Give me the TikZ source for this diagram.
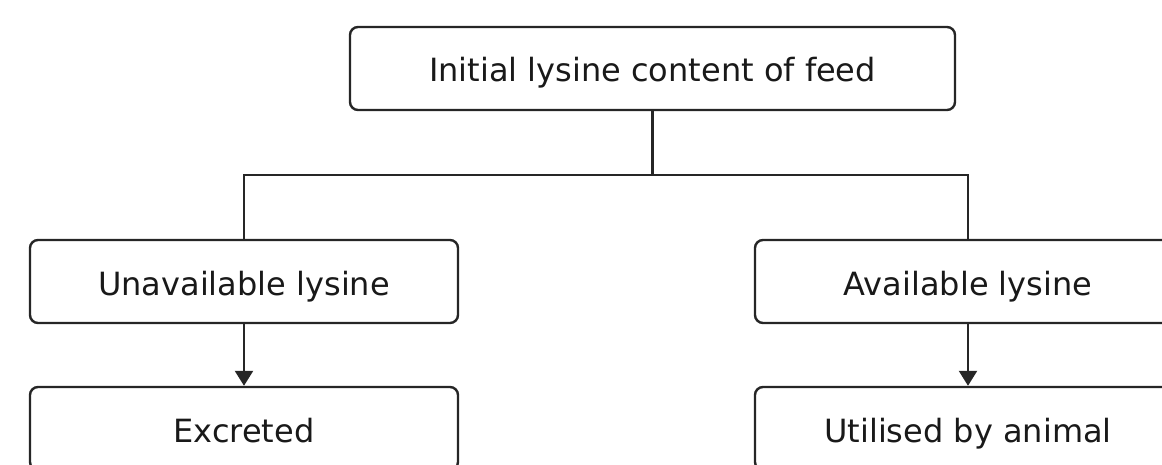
\documentclass[tikz,border=0pt]{standalone}
\usepackage{fontspec}
\setsansfont{DejaVu Sans}
\usetikzlibrary{arrows.meta}
\tikzset{
  lysbox/.style={draw=black!85,line width=2.4pt,rounded corners=8pt,fill=white,
    text=black!90,font=\sffamily\fontsize{32}{38}\selectfont,
    text height=27pt,text depth=0pt,
    minimum height=83pt,inner sep=0pt},
  link/.style={draw=black!85,line width=2.4pt},
}

\begin{document}
\begin{tikzpicture}[x=1pt,y=-1pt]
            \useasboundingbox (0,0) rectangle (1162,465);
            \clip (0,0) rectangle (1162,465);

            \node[lysbox,minimum width=605pt] (feed) at (652.5,68.5) {Initial lysine content of feed};
            \node[lysbox,minimum width=428pt] (unavail) at (244,281.5) {Unavailable lysine};
            \node[lysbox,minimum width=426pt] (avail) at (968,281.5) {Available lysine};
            \node[lysbox,minimum width=428pt] (excreted) at (244,428.5) {Excreted};
            \node[lysbox,minimum width=426pt] (utilised) at (968,428.5) {Utilised by animal};

            \coordinate (split) at (652.5,175);

            \draw[link] (feed) to (split);
            \draw[link] (split) -| (unavail);
            \draw[link] (split) -| (avail);

            \draw[link,-{Triangle[width=18pt,length=15pt]}] (unavail) to (excreted);
            \draw[link,-{Triangle[width=18pt,length=15pt]}] (avail) to (utilised);
        \end{tikzpicture}
\end{document}
